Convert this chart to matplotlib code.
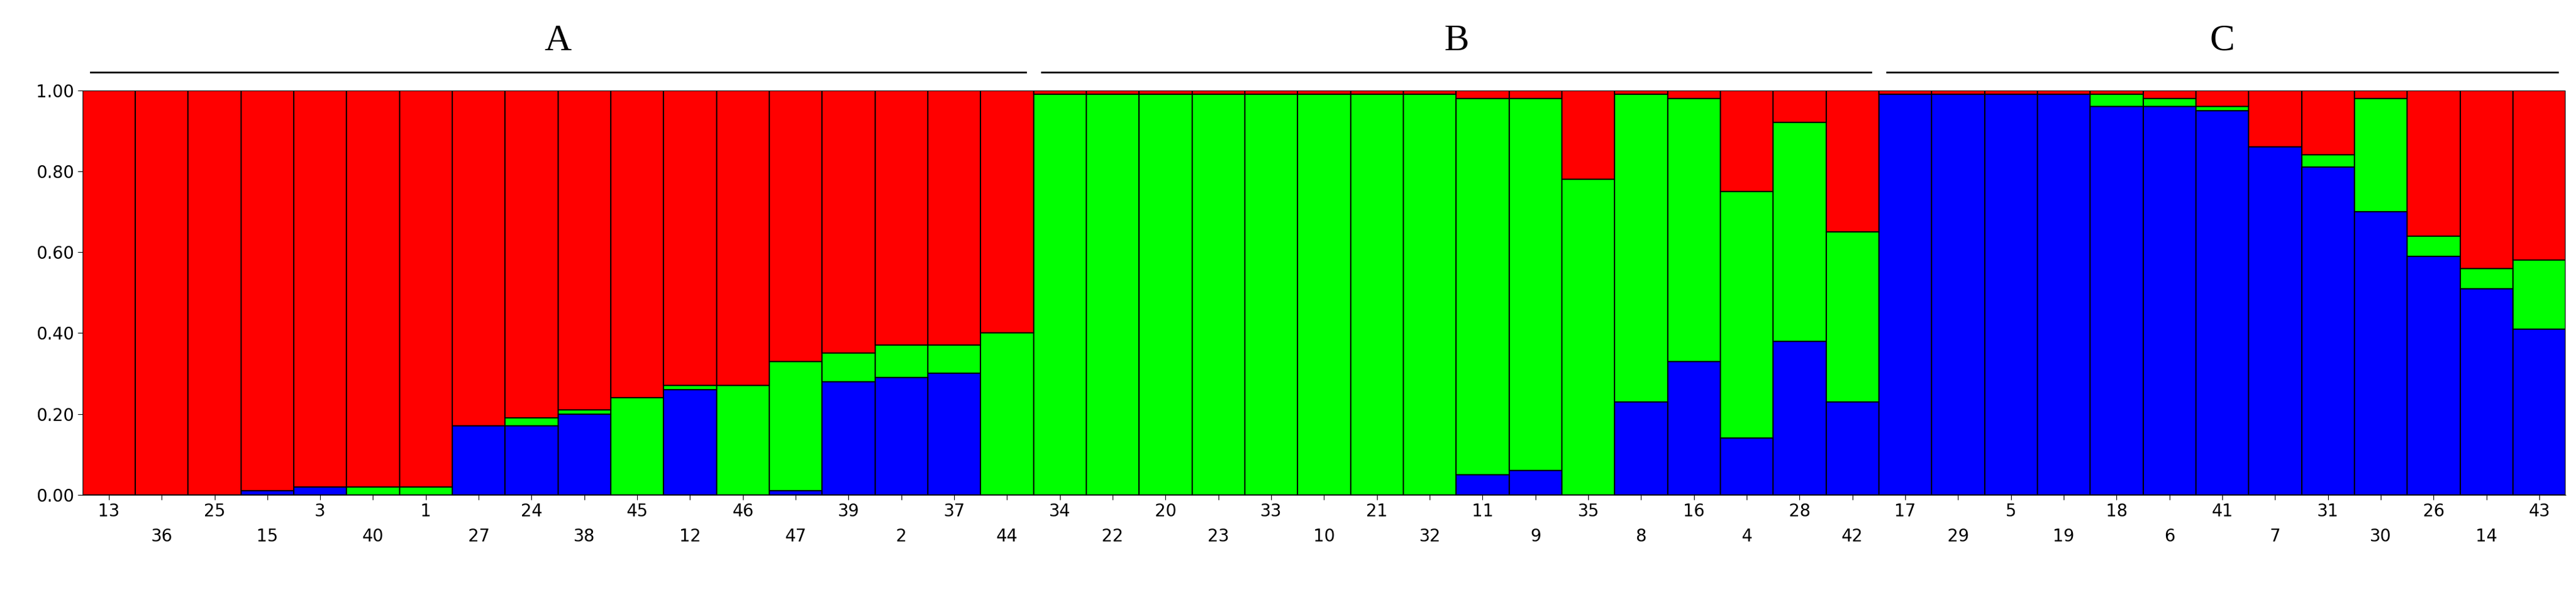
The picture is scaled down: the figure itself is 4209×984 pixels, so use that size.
import matplotlib
matplotlib.use('Agg')
import matplotlib.pyplot as plt
import numpy as np

labels = [13, 36, 25, 15, 3, 40, 1, 27, 24, 38, 45, 12, 46, 47, 39, 2, 37, 44,
          34, 22, 20, 23, 33, 10, 21, 32, 11, 9, 35, 8, 16, 4, 28, 42,
          17, 29, 5, 19, 18, 6, 41, 7, 31, 30, 26, 14, 43]
blue = [0, 0, 0, 0.01, 0.02, 0, 0, 0.17, 0.17, 0.20, 0, 0.26, 0, 0.01, 0.28, 0.29, 0.30, 0,
        0, 0, 0, 0, 0, 0, 0, 0, 0.05, 0.06, 0, 0.23, 0.33, 0.14, 0.38, 0.23,
        0.99, 0.99, 0.99, 0.99, 0.96, 0.96, 0.95, 0.86, 0.81, 0.70, 0.59, 0.51, 0.41]
green = [0, 0, 0, 0, 0, 0.02, 0.02, 0, 0.02, 0.01, 0.24, 0.01, 0.27, 0.32, 0.07, 0.08, 0.07, 0.40,
         0.99, 0.99, 0.99, 0.99, 0.99, 0.99, 0.99, 0.99, 0.93, 0.92, 0.78, 0.76, 0.65, 0.61, 0.54, 0.42,
         0, 0, 0, 0, 0.03, 0.02, 0.01, 0, 0.03, 0.28, 0.05, 0.05, 0.17]
groups = ['A', 'B', 'C']
group_sizes = [18, 16, 13]

blue = np.array(blue)
green = np.array(green)
red = 1 - blue - green
x = np.arange(len(labels))

fig = plt.figure(figsize=(42.09, 9.84), dpi=100)
ax = fig.add_axes([0.032, 0.178, 0.964, 0.672])
kw = dict(width=1.0, edgecolor='black', linewidth=1.5)
ax.bar(x, blue, color='#0000ff', **kw)
ax.bar(x, green, bottom=blue, color='#00ff00', **kw)
ax.bar(x, red, bottom=blue + green, color='#ff0000', **kw)

ax.set_xlim(-0.5, len(labels) - 0.5)
ax.set_ylim(0, 1)
yt = [0, 0.2, 0.4, 0.6, 0.8, 1.0]
ax.set_yticks(yt)
ax.set_yticklabels([f'{v:.2f}' for v in yt], fontsize=20)
ax.set_xticks(x)
ax.set_xticklabels([str(l) if i % 2 == 0 else '\n' + str(l) for i, l in enumerate(labels)],
                   fontsize=20, linespacing=1.6)
ax.tick_params(length=6)
for s in ['top', 'right']:
    ax.spines[s].set_visible(False)

# group lines and letters above the plot
start = 0
for g, n in zip(groups, group_sizes):
    x0, x1 = start - 0.5 + 0.15, start + n - 0.5 - 0.15
    ax.plot([x0, x1], [1.045, 1.045], color='black', lw=2, clip_on=False)
    ax.text((x0 + x1) / 2, 1.08, g, ha='center', va='bottom', fontsize=44,
            family='Liberation Serif')
    start += n

fig.savefig('out.png', dpi=100)
